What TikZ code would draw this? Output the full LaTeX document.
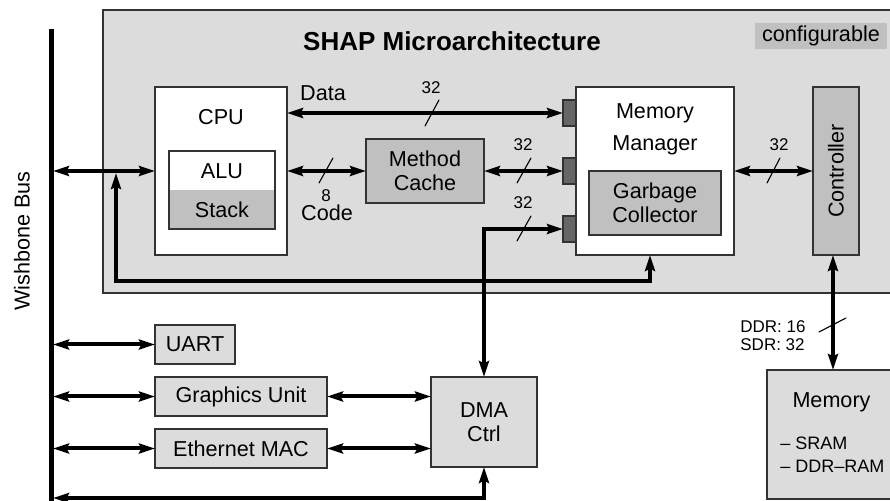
\documentclass[tikz,border=0pt]{standalone}
\usepackage{fontspec}
\setmainfont{Liberation Sans}
\usetikzlibrary{arrows.meta,calc}
\definecolor{lightg}{gray}{0.863}
\definecolor{midg}{gray}{0.753}
\definecolor{portg}{gray}{0.4}
\definecolor{edgeg}{gray}{0.2}
\begin{document}
\begin{tikzpicture}[x=0.5pt,y=-0.5pt,
  box/.style={draw=edgeg, line width=0.6pt, inner sep=0pt, outer sep=0pt,
    font=\fontsize{10.8}{12.5}\selectfont, align=center},
  txt/.style={inner sep=0pt, font=\fontsize{10.8}{12.5}\selectfont},
  smalltxt/.style={inner sep=0pt, font=\fontsize{8.5}{9.5}\selectfont},
  tipd/.tip={Stealth[length=8pt,width=5pt,inset=1.2pt]},
  conn/.style={line width=2pt, tipd-tipd},
  conns/.style={line width=2pt},
  slash/.style={line width=0.55pt, line cap=round},
  port/.style={draw=edgeg, line width=0.6pt, fill=portg, minimum width=6.5pt, minimum height=13pt, inner sep=0pt, outer sep=0pt}
]
\useasboundingbox (0,0) rectangle (890,501);
\clip (0,0) rectangle (890,501);
\fill[white] (0,0) rectangle (890,501);

% outer architecture box
\node[box, fill=lightg, minimum width=398.5pt, minimum height=141.5pt] (arch) at (501.5,151.5) {};
\node[font=\fontsize{13}{15}\selectfont\bfseries, inner sep=0pt] (title) at (452,41) {SHAP Microarchitecture};
\node[fill=midg, inner sep=0pt, minimum width=66pt, minimum height=13pt, font=\fontsize{10.8}{12.5}\selectfont] (conf) at (821,36) {configurable};

% bus
\coordinate (busT) at (51,29);
\coordinate (busB) at (51,510);
\coordinate (busE) at (53,0);
\draw[line width=2.5pt] (busT) -- (busB);
\node[txt, rotate=90] (wbtxt) at (22,241) {Wishbone Bus};

% CPU
\node[box, fill=white, minimum width=66pt, minimum height=84pt] (cpu) at (221,171) {};
\node[txt] (cputxt) at (221,117) {CPU};
\node[box, fill=white, minimum width=53pt, minimum height=39pt] (alu) at (222,190) {};
\fill[midg] ($(alu.west)+(0.6pt,0)$) rectangle ($(alu.south east)+(-0.6pt,-0.6pt)$);
\draw[edgeg, line width=0.6pt] (alu.north west) rectangle (alu.south east);
\node[txt] (alutxt) at (222,171) {ALU};
\node[txt] (stacktxt) at (222,210) {Stack};

% Method cache
\node[box, fill=midg, minimum width=59pt, minimum height=32pt] (mc) at (425,171) {Method\\[-0.3pt]Cache};

% Memory manager
\node[box, fill=white, minimum width=79pt, minimum height=84pt] (mm) at (655,171) {};
\node[txt] (mmtxt1) at (655,113) {Memory};
\node[txt] (mmtxt2) at (655,145) {Manager};
\node[box, fill=midg, minimum width=66pt, minimum height=32pt] (gc) at (655,203) {Garbage\\[-0.3pt]Collector};
\node[port] (p1) at (569.5,113) {};
\node[port] (p2) at (569.5,171) {};
\node[port] (p3) at (569.5,229) {};

% Controller
\node[box, fill=midg, minimum width=23pt, minimum height=84pt] (ctrl) at (836,171) {};
\node[txt, rotate=90] (ctrltxt) at (836,171) {Controller};

% Memory
\node[box, fill=lightg, minimum width=66pt, minimum height=64.5pt] (mem) at (833,434.5) {};
\node[txt] (memtxt) at (831.5,402) {Memory};
\node[smalltxt, anchor=west, font=\fontsize{9}{10}\selectfont] (sram) at (780,443) {\textendash\ SRAM};
\node[smalltxt, anchor=west, font=\fontsize{9}{10}\selectfont] (ddr) at (780,466) {\textendash\ DDR\textendash RAM};

% peripherals
\node[box, fill=lightg, minimum width=40pt, minimum height=19.5pt] (uart) at (195,344.5) {UART};
\node[box, fill=lightg, minimum width=86pt, minimum height=19.5pt] (gfx) at (241,396.5) {Graphics Unit};
\node[box, fill=lightg, minimum width=86pt, minimum height=19.5pt] (eth) at (241,448.5) {Ethernet MAC};
\node[box, fill=lightg, minimum width=53pt, minimum height=45pt] (dma) at (484,422) {DMA\\[-0.3pt]Ctrl};

% connectors
\draw[conn] (busE |- cpu) -- (cpu.west);
\coordinate (jn) at (116,173);
\coordinate (fbc) at (116,281);
\coordinate (mmin) at ($(mm.south)+(-5,0)$);
\draw[conns, tipd-tipd] (jn) -- (fbc) -- (fbc -| mmin) -- (mmin);

\draw[conn] (cpu.east |- p1) -- (p1.west);
\node[txt] (datatxt) at (323,93) {Data};
\draw[slash] (425,126) -- (439,100);
\node[smalltxt] (l32a) at (431,88) {32};

\draw[conn] (cpu.east |- mc) -- (mc.west);
\draw[slash] (319,183) -- (333,158);
\node[smalltxt] (l8) at (326,196) {8};
\node[txt] (codetxt) at (327,213) {Code};

\draw[conn] (mc.east) -- (p2.west);
\draw[slash] (517,183) -- (531,158);
\node[smalltxt] (l32b) at (523,145) {32};

\draw[conns, tipd-tipd] (dma.north) -- (dma.north |- p3) -- (p3.west);
\draw[slash] (517,241) -- (531,216);
\node[smalltxt] (l32c) at (523,203) {32};

\draw[conn] (mm.east) -- (mm.east -| ctrl.west);
\draw[slash] (767,183) -- (780,158);
\node[smalltxt] (l32d) at (779,145) {32};

\draw[conn] (ctrl.south -| mem.north) -- (mem.north);
\draw[slash] (819,332) -- (846,318);
\node[smalltxt, anchor=west] (ddrl) at (740,327) {DDR: 16};
\node[smalltxt, anchor=west] (sdrl) at (740,345) {SDR: 32};

\draw[conn] (busE |- uart) -- (uart.west);
\draw[conn] (busE |- gfx) -- (gfx.west);
\draw[conn] (busE |- eth) -- (eth.west);
\draw[conn] (gfx.east) -- (dma.west |- gfx);
\draw[conn] (eth.east) -- (dma.west |- eth);
\coordinate (bot) at (484,498);
\draw[conns, tipd-tipd] (busE |- bot) -- (bot) -- (dma.south);
\end{tikzpicture}
\end{document}
